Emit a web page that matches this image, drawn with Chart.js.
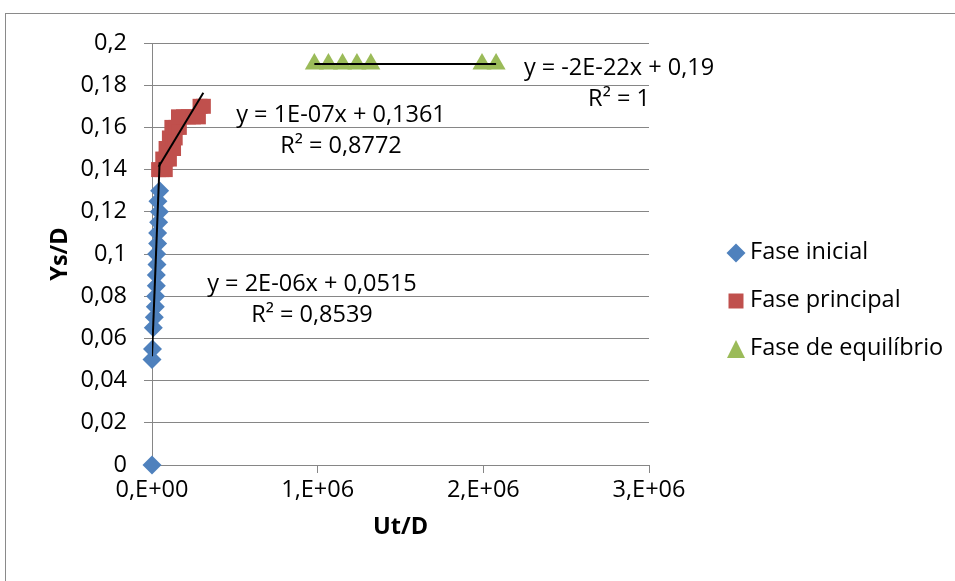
<!DOCTYPE html>
<html>
<head>
<meta charset="utf-8">
<script src="https://cdn.jsdelivr.net/npm/chart.js@4.4.1/dist/chart.umd.min.js"></script>
<style>
  html, body { margin: 0; padding: 0; background: #ffffff; overflow: hidden; }
  #wrap { width: 955px; height: 581px; position: relative; }
</style>
</head>
<body>
<div id="wrap"><canvas id="c" width="955" height="581"></canvas></div>
<script>
// Series names
const seriesNames = ['Fase inicial', 'Fase principal', 'Fase de equilíbrio'];

// Fase inicial (Ut/D, Ys/D)
const inicialX = [0, 0, 3000, 8000, 14000, 20000, 22000, 26000, 26000, 30000, 28000, 34000, 34000, 40000, 44000, 36000, 46000];
const inicialY = [0, 0.05, 0.055, 0.065, 0.07, 0.075, 0.08, 0.085, 0.09, 0.095, 0.1, 0.105, 0.11, 0.115, 0.12, 0.125, 0.13];

// Fase principal
const principalX = [40000, 60000, 80000, 65000, 85000, 105000, 85000, 105000, 130000, 105000, 125000, 140000, 120000, 145000, 165000, 160000, 190000, 220000, 250000, 280000, 290000, 310000];
const principalY = [0.14, 0.14, 0.14, 0.145, 0.145, 0.145, 0.15, 0.15, 0.15, 0.155, 0.155, 0.155, 0.16, 0.16, 0.16, 0.165, 0.165, 0.165, 0.165, 0.165, 0.17, 0.17];

// Fase de equilíbrio
const equilibrioX = [980000, 1065000, 1150000, 1237000, 1321000, 1992000, 2077000];
const equilibrioY = [0.19, 0.19, 0.19, 0.19, 0.19, 0.19, 0.19];

// Linear trendlines (slope, intercept) and their printed equations
const trendSlope = [2e-6, 1.3e-7, -2e-22];
const trendIntercept = [0.0515, 0.1361, 0.19];
const trendEquation = ['y = 2E-06x + 0,0515', 'y = 1E-07x + 0,1361', 'y = -2E-22x + 0,19'];
const trendR2 = ['R² = 0,8539', 'R² = 0,8772', 'R² = 1'];

// Axis tick labels
const xTickLabels = ['0,E+00', '1,E+06', '2,E+06', '3,E+06'];
const yTickLabels = ['0', '0,02', '0,04', '0,06', '0,08', '0,1', '0,12', '0,14', '0,16', '0,18', '0,2'];

const FONT = '"Open Sans"';
const FSIZE = 23.5;
const colors = ['#4F81BD', '#C0504D', '#9BBB59'];
const shapes = ['rectRot', 'rect', 'triangle'];
const radii = [9.5, 10.6, 11];
const gridColor = '#868686';

const seriesX = [inicialX, principalX, equilibrioX];
const seriesY = [inicialY, principalY, equilibrioY];

function toPoints(xs, ys) { return xs.map((x, i) => ({ x: x, y: ys[i] })); }

function trendPoints(k) {
  const lo = Math.min(...seriesX[k]);
  const hi = Math.max(...seriesX[k]);
  return [lo, hi].map(x => ({ x: x, y: trendSlope[k] * x + trendIntercept[k] }));
}

const datasets = [];
for (let k = 0; k < 3; k++) {
  datasets.push({
    label: 'Linear (' + seriesNames[k] + ')',
    data: trendPoints(k),
    showLine: true,
    borderColor: '#000000',
    borderWidth: 2,
    pointRadius: 0,
    order: 0
  });
}
for (let k = 0; k < 3; k++) {
  datasets.push({
    label: seriesNames[k],
    data: toPoints(seriesX[k], seriesY[k]),
    showLine: false,
    clip: false,
    backgroundColor: colors[k],
    borderColor: colors[k],
    pointStyle: shapes[k],
    pointRadius: radii[k],
    pointHoverRadius: radii[k],
    pointBorderWidth: 0,
    order: 3 - k   // later series painted over earlier ones
  });
}

// Equation label centres (canvas pixels)
const eqPos = [[312, 284], [341, 115], [619, 68]];
const eqLineGap = 31;

const decorations = {
  id: 'decorations',
  beforeDraw(chart) {
    const ctx = chart.ctx;
    ctx.save();
    ctx.fillStyle = '#ffffff';
    ctx.fillRect(0, 0, chart.width, chart.height);
    ctx.strokeStyle = '#8a8a8a';
    ctx.lineWidth = 1;
    ctx.strokeRect(5.5, 13.5, 1000, 1000);
    ctx.restore();
  },
  afterDraw(chart) {
    const ctx = chart.ctx;
    ctx.save();
    ctx.fillStyle = '#000000';
    ctx.font = FSIZE + 'px ' + FONT;
    ctx.textAlign = 'center';
    ctx.textBaseline = 'middle';
    for (let k = 0; k < 3; k++) {
      ctx.fillText(trendEquation[k], eqPos[k][0], eqPos[k][1]);
      ctx.fillText(trendR2[k], eqPos[k][0], eqPos[k][1] + eqLineGap);
    }
    // legend
    const lx = 736, ly0 = 253, lgap = 48, tx = 750;
    for (let k = 0; k < 3; k++) {
      const cy = ly0 + k * lgap;
      ctx.fillStyle = colors[k];
      ctx.beginPath();
      if (shapes[k] === 'rectRot') {
        const r = 9.5;
        ctx.moveTo(lx - r, cy); ctx.lineTo(lx, cy - r); ctx.lineTo(lx + r, cy); ctx.lineTo(lx, cy + r);
      } else if (shapes[k] === 'rect') {
        const h = 7.5;
        ctx.rect(lx - h, cy - h, 2 * h, 2 * h);
      } else {
        const w = 9, h = 9;
        ctx.moveTo(lx, cy - h); ctx.lineTo(lx + w, cy + h); ctx.lineTo(lx - w, cy + h);
      }
      ctx.closePath();
      ctx.fill();
      ctx.fillStyle = '#000000';
      ctx.textAlign = 'left';
      ctx.fillText(seriesNames[k], tx, cy - 1);
    }
    ctx.restore();
  }
};

new Chart(document.getElementById('c'), {
  type: 'scatter',
  data: { datasets: datasets },
  plugins: [decorations],
  options: {
    responsive: false,
    animation: false,
    events: [],
    layout: { padding: { left: 0, top: 43, right: 306, bottom: 0 } },
    plugins: { legend: { display: false }, tooltip: { enabled: false } },
    scales: {
      x: {
        type: 'linear',
        min: 0, max: 3e6,
        afterFit: s => { s.height = 116; },
        ticks: {
          stepSize: 1e6,
          autoSkip: false,
          maxRotation: 0,
          padding: 3,
          color: '#000000',
          font: { family: FONT, size: FSIZE },
          callback: (v, i) => xTickLabels[i]
        },
        grid: { drawOnChartArea: false, drawTicks: true, tickLength: 8, color: gridColor },
        border: { display: true, color: gridColor, width: 1 },
        title: {
          display: true, text: 'Ut/D', color: '#000000',
          font: { family: FONT, size: FSIZE, weight: 'bold' },
          padding: { top: 0, bottom: 40 }
        }
      },
      y: {
        type: 'linear',
        min: 0, max: 0.2,
        afterFit: s => { s.width = 152; },
        ticks: {
          stepSize: 0.02,
          autoSkip: false,
          padding: 17,
          color: '#000000',
          font: { family: FONT, size: FSIZE },
          callback: (v, i) => yTickLabels[i]
        },
        grid: { drawTicks: true, tickLength: 8, color: gridColor },
        border: { display: true, color: gridColor, width: 1 },
        title: {
          display: true, text: 'Ys/D', color: '#000000',
          font: { family: FONT, size: FSIZE, weight: 'bold' },
          padding: { top: 46, bottom: 0 }
        }
      }
    }
  }
});
</script>
</body>
</html>
